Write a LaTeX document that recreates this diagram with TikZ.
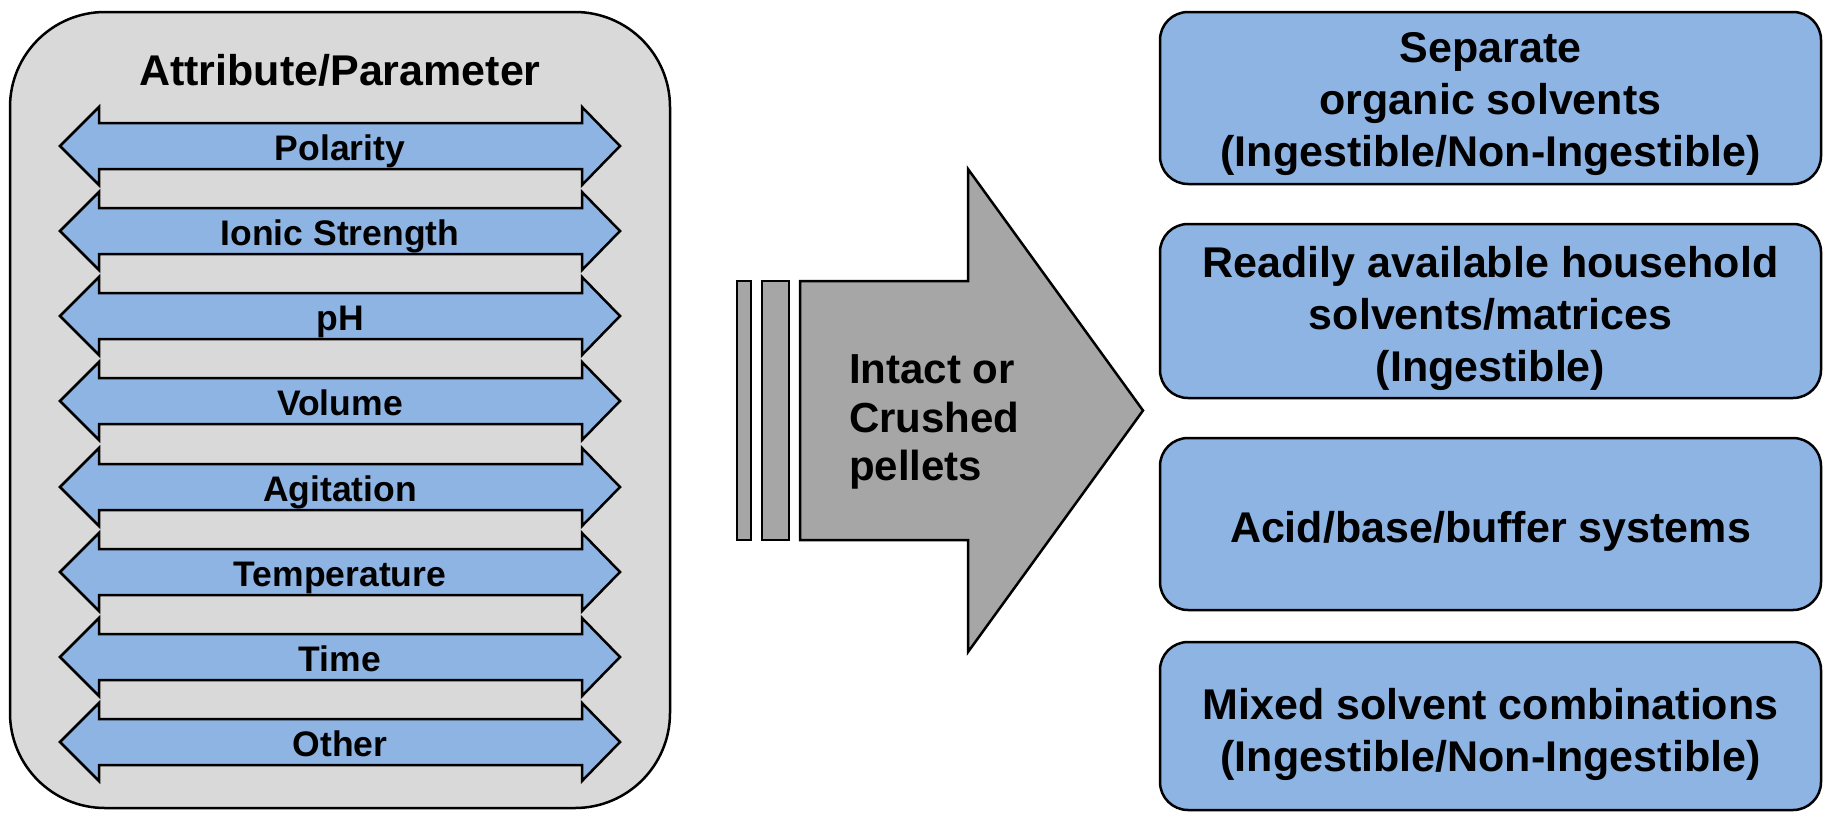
\documentclass[tikz,border=0pt]{standalone}
\usepackage{fontspec}
\setmainfont{Liberation Sans}
\definecolor{boxblue}{RGB}{142,180,227}
\definecolor{panelgray}{RGB}{217,217,217}
\definecolor{arrowgray}{RGB}{166,166,166}
\begin{document}
\begin{tikzpicture}[x=1pt,y=-1pt,line width=2.5pt,line join=miter,
  panelbox/.style={draw=black,fill=panelgray,rounded corners=95pt,inner sep=0pt,
    minimum width=660pt,minimum height=796pt},
  dblarrow/.style={draw=black,fill=boxblue},
  lbl/.style={font=\fontsize{35.5}{43}\selectfont\bfseries,inner sep=0pt,anchor=base},
  ttl/.style={font=\fontsize{43}{52}\selectfont\bfseries,inner sep=0pt,anchor=base},
  solvbox/.style={draw=black,fill=boxblue,rounded corners=28pt,inner sep=0pt,
    minimum width=661pt,minimum height=172pt},
  solvtext/.style={font=\fontsize{43}{52}\selectfont\bfseries,inner sep=0pt,align=center},
  grayshape/.style={draw=black,fill=arrowgray},
  peltext/.style={font=\fontsize{42}{48.5}\selectfont\bfseries,inner sep=0pt,align=left,anchor=west}]
\useasboundingbox (0,0) rectangle (1823,812);

% left panel
\node[panelbox] (panel) at (340,410) {};
\node[ttl] (title) at (340,85) {Attribute/Parameter};

\foreach \c/\t/\n in {146/Polarity/p1,231/Ionic Strength/p2,316/pH/p3,401/Volume/p4,
                      487/Agitation/p5,572/Temperature/p6,657/Time/p7,742/Other/p8}{
  \draw[dblarrow] (60,\c) -- (99,\c-39) -- (99,\c-23) -- (582,\c-23) -- (582,\c-39)
     -- (620,\c) -- (582,\c+39) -- (582,\c+23) -- (99,\c+23) -- (99,\c+39) -- cycle;
  \node[lbl] (\n) at (340,\c+14) {\t};
}

% big gray arrow
\draw[grayshape] (737,281) rectangle (751,540);
\draw[grayshape] (762,281) rectangle (789,540);
\draw[grayshape] (800,281) -- (968,281) -- (968,169) -- (1143,410.5) -- (968,652)
   -- (968,540) -- (800,540) -- cycle;
\node[peltext] (pellets) at (848,422) {Intact or\\Crushed\\pellets};

% right boxes
\node[solvbox] (box1) at (1490.5,98) {};
\node[solvbox,minimum height=174pt] (box2) at (1490.5,311) {};
\node[solvbox] (box3) at (1490.5,524) {};
\node[solvbox,minimum height=168pt] (box4) at (1490.5,726) {};

\node[solvtext] (t1) at (1490.5,104) {Separate\\organic solvents\\(Ingestible/Non-Ingestible)};
\node[solvtext] (t2) at (1490.5,318) {Readily available household\\solvents/matrices\\(Ingestible)};
\node[solvtext] (t3) at (1490.5,531) {Acid/base/buffer systems};
\node[solvtext] (t4) at (1490.5,734) {Mixed solvent combinations\\(Ingestible/Non-Ingestible)};
\end{tikzpicture}
\end{document}
